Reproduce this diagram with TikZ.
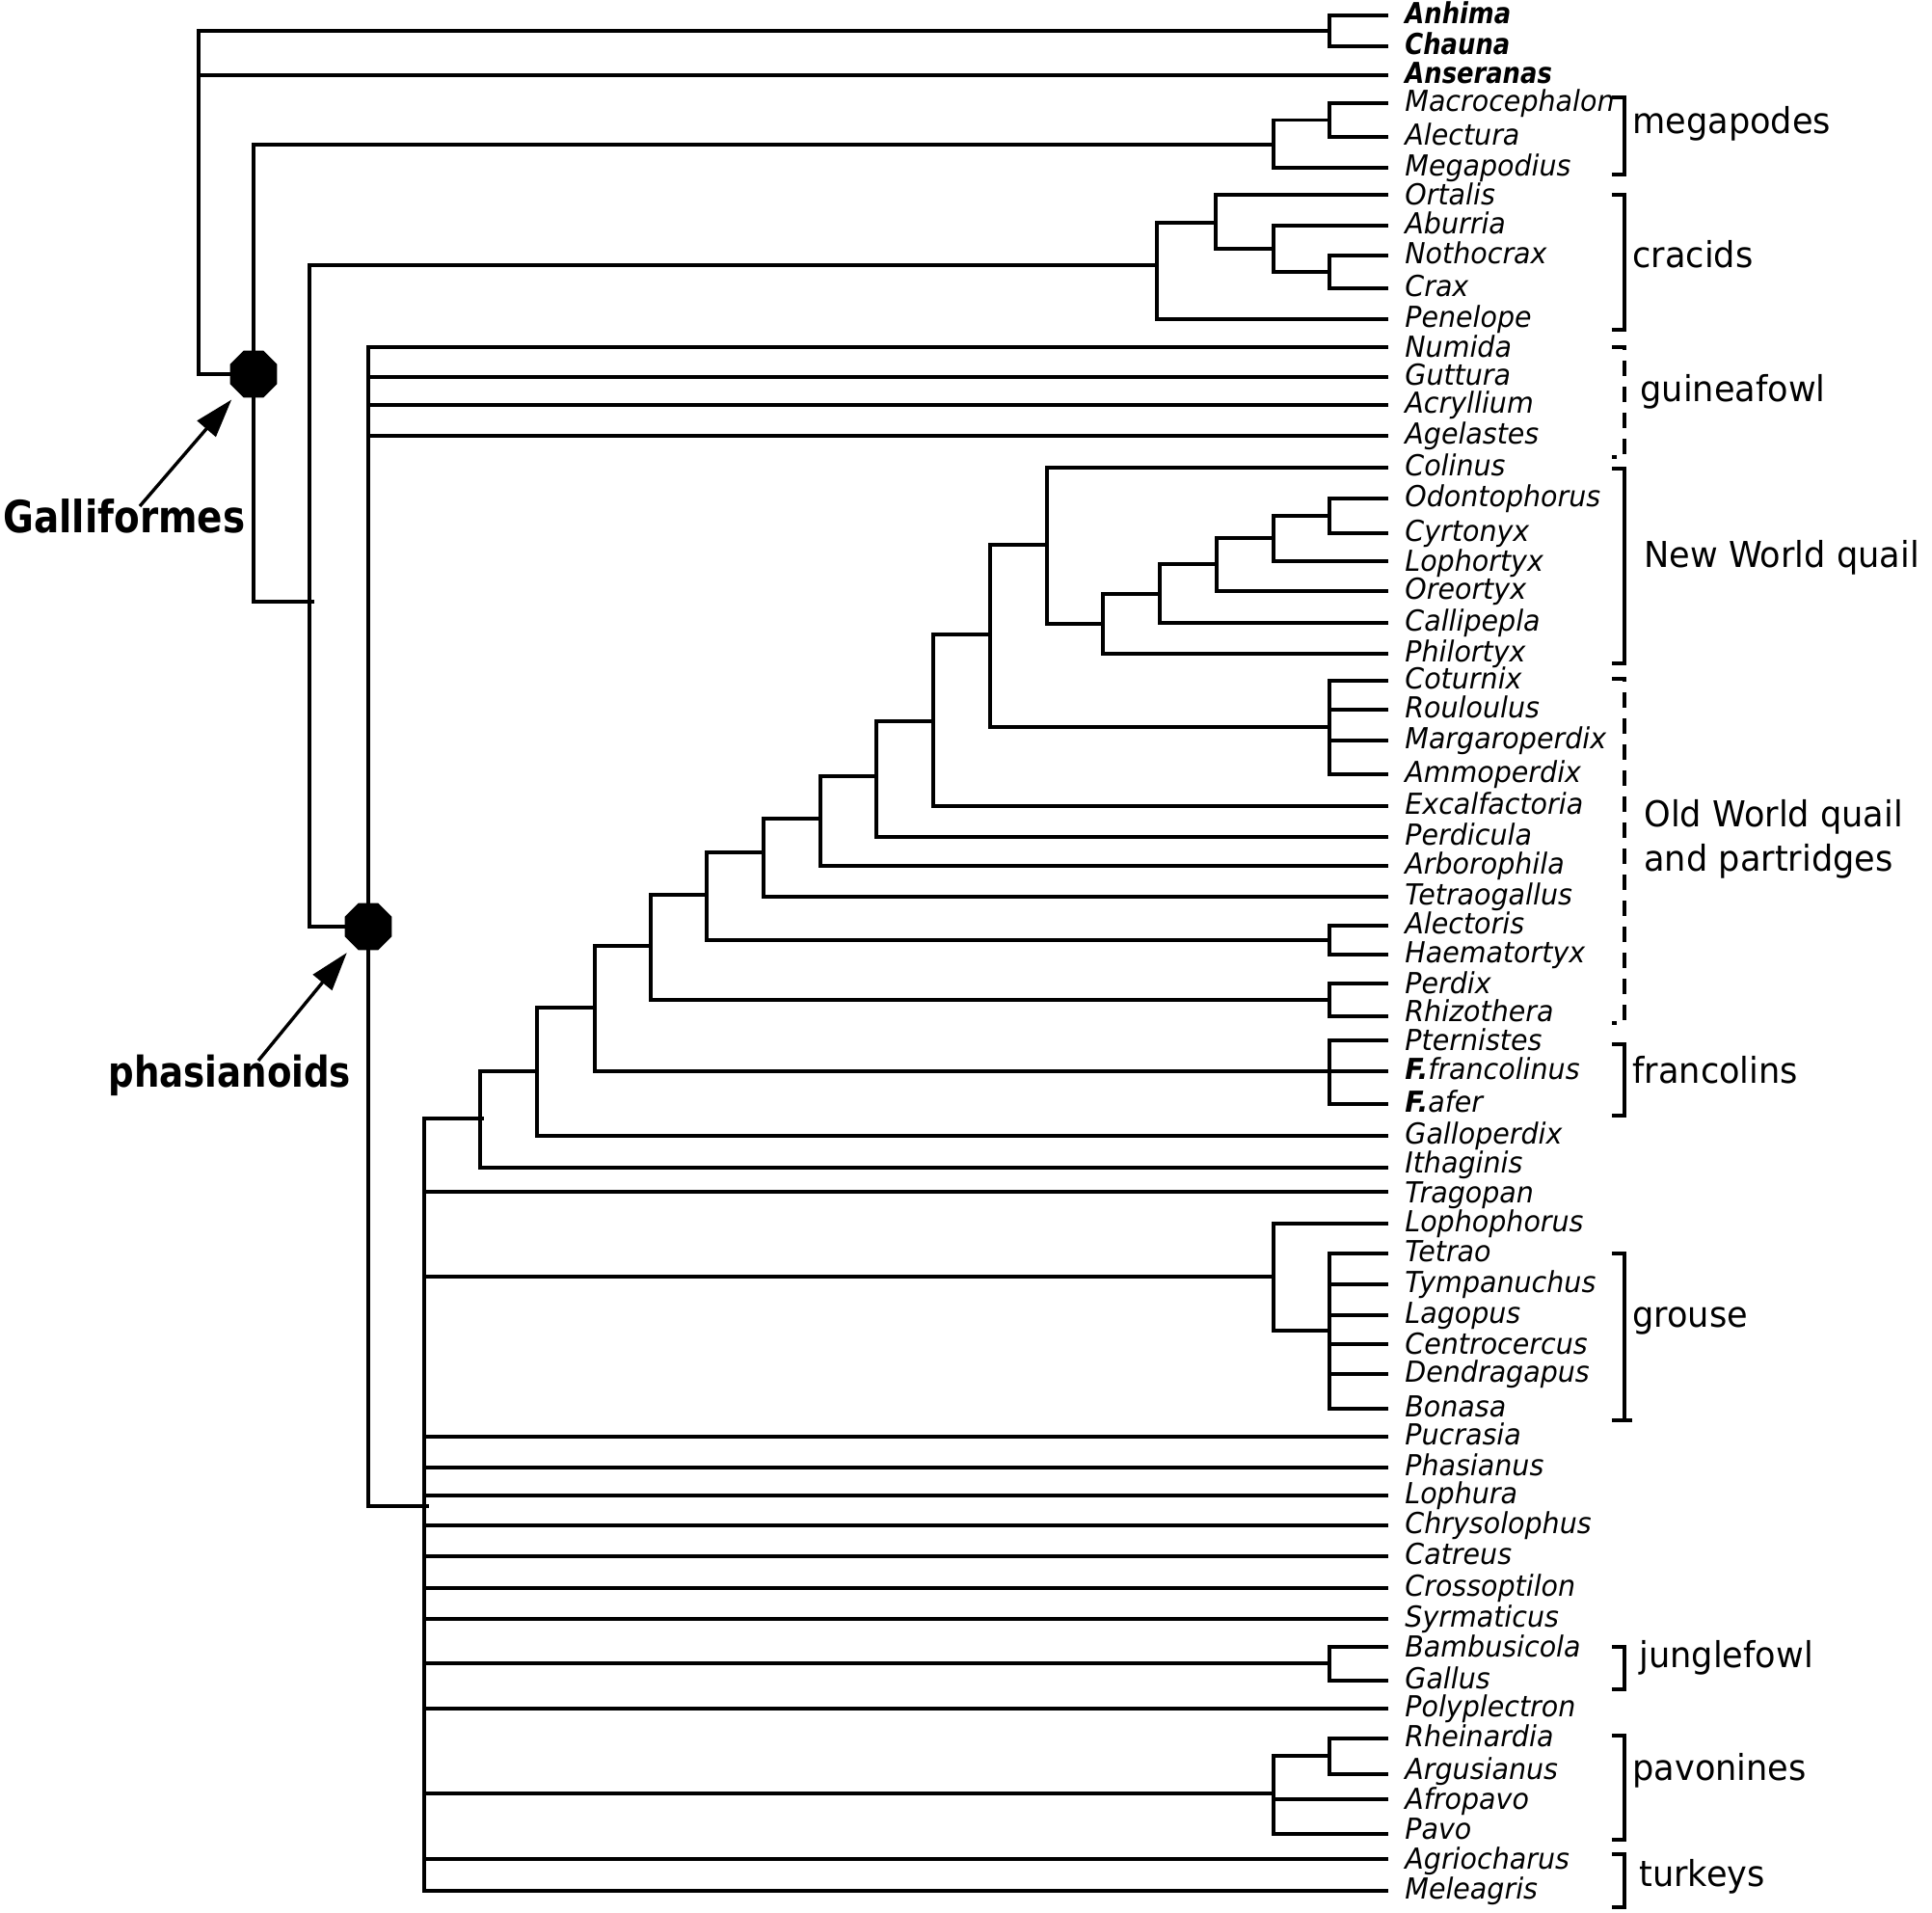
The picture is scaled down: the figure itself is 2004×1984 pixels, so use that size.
\documentclass[tikz,border=0pt]{standalone}
\usepackage{fontspec}
\setmainfont{DejaVu Sans}
\newfontfamily\leaffont[FakeStretch=0.95]{DejaVu Sans}
\newfontfamily\boldleaffont[FakeStretch=0.86]{DejaVu Sans}
\newfontfamily\grpfont[FakeStretch=0.95]{DejaVu Sans}
\newfontfamily\cladefont[FakeStretch=0.845]{DejaVu Sans}
\usetikzlibrary{shapes.geometric,arrows.meta}
\newcommand\mkleaf[4][3]{\coordinate (e#2) at (1440,#3); \node[leaf] (t#2) at (1457,#3+#1) {#4};}
\newcommand\mkbleaf[3]{\coordinate (e#1) at (1440,#2); \node[bleaf] (t#1) at (1457,#2+3) {#3};}
\begin{document}
\begin{tikzpicture}[x=0.5pt,y=-0.5pt,
  br/.style={line width=1.7pt},
  leaf/.style={anchor=mid west, inner sep=0pt, font=\leaffont\itshape\fontsize{15pt}{17pt}\selectfont},
  bleaf/.style={anchor=mid west, inner sep=0pt, font=\boldleaffont\bfseries\itshape\fontsize{15pt}{17pt}\selectfont},
  grp/.style={anchor=mid west, inner sep=0pt, font=\grpfont\fontsize{18.5pt}{22pt}\selectfont},
  brk/.style={line width=1.7pt},
  dbrk/.style={line width=1.7pt, dash pattern=on 8pt off 5.5pt},
  marker/.style={regular polygon, regular polygon sides=8, fill=black, draw=none, minimum size=26.5pt, inner sep=0pt},
  bigl/.style={inner sep=0pt, anchor=base west, font=\cladefont\bfseries\fontsize{23pt}{27pt}\selectfont},
  pointer/.style={line width=1.7pt, -{Triangle[length=20pt,width=12.5pt]}}]
\useasboundingbox (0,0) rectangle (2004,1984);
% leaves
\mkbleaf{Anhima}{16}{Anhima}
\mkbleaf{Chauna}{48}{Chauna}
\mkbleaf{Anseranas}{78}{Anseranas}
\mkleaf{Macrocephalon}{107}{Macrocephalon}
\mkleaf{Alectura}{142}{Alectura}
\mkleaf{Megapodius}{174}{Megapodius}
\mkleaf[5]{Ortalis}{202}{Ortalis}
\mkleaf{Aburria}{234}{Aburria}
\mkleaf{Nothocrax}{265}{Nothocrax}
\mkleaf{Crax}{299}{Crax}
\mkleaf{Penelope}{331}{Penelope}
\mkleaf[5]{Numida}{360}{Numida}
\mkleaf{Guttura}{391}{Guttura}
\mkleaf{Acryllium}{420}{Acryllium}
\mkleaf{Agelastes}{452}{Agelastes}
\mkleaf{Colinus}{485}{Colinus}
\mkleaf{Odontophorus}{517}{Odontophorus}
\mkleaf{Cyrtonyx}{553}{Cyrtonyx}
\mkleaf[5]{Lophortyx}{582}{Lophortyx}
\mkleaf{Oreortyx}{613}{Oreortyx}
\mkleaf{Callipepla}{646}{Callipepla}
\mkleaf{Philortyx}{678}{Philortyx}
\mkleaf{Coturnix}{706}{Coturnix}
\mkleaf{Rouloulus}{736}{Rouloulus}
\mkleaf{Margaroperdix}{768}{Margaroperdix}
\mkleaf{Ammoperdix}{803}{Ammoperdix}
\mkleaf{Excalfactoria}{836}{Excalfactoria}
\mkleaf{Perdicula}{868}{Perdicula}
\mkleaf{Arborophila}{898}{Arborophila}
\mkleaf{Tetraogallus}{930}{Tetraogallus}
\mkleaf{Alectoris}{960}{Alectoris}
\mkleaf{Haematortyx}{990}{Haematortyx}
\mkleaf[5]{Perdix}{1020}{Perdix}
\mkleaf[0]{Rhizothera}{1054}{Rhizothera}
\mkleaf[5]{Pternistes}{1079}{Pternistes}
\mkleaf{Ffrancolinus}{1111}{{\bfseries F.}francolinus}
\mkleaf{Fafer}{1145}{{\bfseries F.}afer}
\mkleaf{Galloperdix}{1178}{Galloperdix}
\mkleaf[0]{Ithaginis}{1211}{Ithaginis}
\mkleaf[6]{Tragopan}{1236}{Tragopan}
\mkleaf{Lophophorus}{1269}{Lophophorus}
\mkleaf{Tetrao}{1300}{Tetrao}
\mkleaf{Tympanuchus}{1332}{Tympanuchus}
\mkleaf{Lagopus}{1364}{Lagopus}
\mkleaf[5]{Centrocercus}{1394}{Centrocercus}
\mkleaf{Dendragapus}{1425}{Dendragapus}
\mkleaf{Bonasa}{1461}{Bonasa}
\mkleaf{Pucrasia}{1490}{Pucrasia}
\mkleaf{Phasianus}{1522}{Phasianus}
\mkleaf{Lophura}{1551}{Lophura}
\mkleaf{Chrysolophus}{1582}{Chrysolophus}
\mkleaf{Catreus}{1614}{Catreus}
\mkleaf{Crossoptilon}{1647}{Crossoptilon}
\mkleaf{Syrmaticus}{1679}{Syrmaticus}
\mkleaf[5]{Bambusicola}{1708}{Bambusicola}
\mkleaf{Gallus}{1743}{Gallus}
\mkleaf{Polyplectron}{1772}{Polyplectron}
\mkleaf{Rheinardia}{1803}{Rheinardia}
\mkleaf[0]{Argusianus}{1840}{Argusianus}
\mkleaf[5]{Afropavo}{1866}{Afropavo}
\mkleaf[0]{Pavo}{1902}{Pavo}
\mkleaf[5]{Agriocharus}{1928}{Agriocharus}
\mkleaf{Meleagris}{1961}{Meleagris}
% internal nodes
\coordinate (root) at (206,200);
\coordinate (AC) at (1379,32);
\coordinate (G1) at (263,388);
\coordinate (MG) at (1321,150);
\coordinate (MA) at (1379,124.5);
\coordinate (CP) at (321,624);
\coordinate (CR) at (1200,275);
\coordinate (OA) at (1261,231);
\coordinate (AN) at (1321,258);
\coordinate (NC) at (1379,282);
\coordinate (PH) at (382,961);
\coordinate (BIG) at (440,1562);
\coordinate (nA) at (498,1160);
\coordinate (nB) at (557,1111);
\coordinate (nC) at (617,1045);
\coordinate (FR) at (1379,1111);
\coordinate (nD) at (675,981);
\coordinate (PR) at (1379,1037);
\coordinate (nE) at (733,928);
\coordinate (AH) at (1379,975);
\coordinate (nF) at (792,884);
\coordinate (nG) at (851,849);
\coordinate (nH) at (909,805);
\coordinate (nI) at (968,748);
\coordinate (nJ) at (1027,658);
\coordinate (CO) at (1379,754);
\coordinate (nK) at (1086,565);
\coordinate (nL) at (1144,647);
\coordinate (nM) at (1203,616);
\coordinate (nN) at (1262,585);
\coordinate (nO) at (1321,558);
\coordinate (nP) at (1379,535);
\coordinate (GR) at (1321,1324);
\coordinate (GS) at (1379,1380);
\coordinate (JF) at (1379,1725);
\coordinate (PV) at (1321,1860);
\coordinate (RA) at (1379,1821);
% branches
\foreach \p/\c in {root/AC, root/eAnseranas, root/G1, AC/eAnhima, AC/eChauna,
  G1/MG, G1/CP, MG/MA, MG/eMegapodius, MA/eMacrocephalon, MA/eAlectura,
  CP/CR, CP/PH, CR/OA, CR/ePenelope, OA/eOrtalis, OA/AN, AN/eAburria, AN/NC,
  NC/eNothocrax, NC/eCrax,
  PH/eNumida, PH/eGuttura, PH/eAcryllium, PH/eAgelastes, PH/BIG,
  BIG/nA, BIG/eTragopan, BIG/GR, BIG/ePucrasia, BIG/ePhasianus, BIG/eLophura,
  BIG/eChrysolophus, BIG/eCatreus, BIG/eCrossoptilon, BIG/eSyrmaticus, BIG/JF,
  BIG/ePolyplectron, BIG/PV, BIG/eAgriocharus, BIG/eMeleagris,
  nA/nB, nA/eIthaginis, nB/nC, nB/eGalloperdix, nC/nD, nC/FR,
  FR/ePternistes, FR/eFfrancolinus, FR/eFafer,
  nD/nE, nD/PR, PR/ePerdix, PR/eRhizothera,
  nE/nF, nE/AH, AH/eAlectoris, AH/eHaematortyx,
  nF/nG, nF/eTetraogallus, nG/nH, nG/eArborophila, nH/nI, nH/ePerdicula,
  nI/nJ, nI/eExcalfactoria, nJ/nK, nJ/CO,
  CO/eCoturnix, CO/eRouloulus, CO/eMargaroperdix, CO/eAmmoperdix,
  nK/eColinus, nK/nL, nL/nM, nL/ePhilortyx, nM/nN, nM/eCallipepla,
  nN/nO, nN/eOreortyx, nO/nP, nO/eLophortyx, nP/eOdontophorus, nP/eCyrtonyx,
  GR/eLophophorus, GR/GS, GS/eTetrao, GS/eTympanuchus, GS/eLagopus,
  GS/eCentrocercus, GS/eDendragapus, GS/eBonasa,
  JF/eBambusicola, JF/eGallus, PV/RA, PV/eAfropavo, PV/ePavo,
  RA/eRheinardia, RA/eArgusianus}
  \draw[br] (\p) |- (\c);
\draw[br] (CP) -- ++(5,0);
\draw[br] (BIG) -- ++(5,0);
\draw[br] (nA) -- ++(4,0);
% markers
\node[marker] (g1mark) at (G1) {};
\node[marker] (phmark) at (PH) {};
% clade labels with arrows
\node[bigl] (galli) at (3,553) {Galliformes};
\node[bigl, font=\cladefont\bfseries\fontsize{22pt}{26pt}\selectfont] (phas) at (112,1127) {phasianoids};
\coordinate (galtail) at (145,525);
\coordinate (phtail) at (268,1100);
\draw[pointer, shorten >=5pt] (galtail) -- (g1mark);
\draw[pointer, shorten >=5pt] (phtail) -- (phmark);
% brackets
\draw[brk] (1672,101) -- (1685,101) -- (1685,181) -- (1672,181);
\draw[brk] (1672,202) -- (1685,202) -- (1685,342) -- (1672,342);
\draw[dbrk] (1672,360) -- (1685,360) -- (1685,474) -- (1672,474);
\draw[brk] (1672,486) -- (1685,486) -- (1685,688) -- (1672,688);
\draw[dbrk] (1672,704) -- (1685,704) -- (1685,1061) -- (1672,1061);
\draw[brk] (1672,1083) -- (1685,1083) -- (1685,1157) -- (1672,1157);
\draw[brk] (1672,1300) -- (1685,1300) -- (1685,1473) -- (1672,1473);
\draw[brk] (1685,1473) -- (1693,1473);
\draw[brk] (1672,1708) -- (1685,1708) -- (1685,1752) -- (1672,1752);
\draw[brk] (1672,1800) -- (1685,1800) -- (1685,1908) -- (1672,1908);
\draw[brk] (1672,1923) -- (1685,1923) -- (1685,1978) -- (1672,1978);
% group labels
\node[grp] (gmega) at (1693,133) {megapodes};
\node[grp] (gcrac) at (1693,272) {cracids};
\node[grp] (gguin) at (1701,411) {guineafowl};
\node[grp] (gnwq) at (1705,583) {New World quail};
\node[grp] (gowq) at (1705,852) {Old World quail};
\node[grp] (gowqb) at (1705,898) {and partridges};
\node[grp] (gfran) at (1693,1118) {francolins};
\node[grp] (ggrou) at (1693,1371) {grouse};
\node[grp] (gjung) at (1700,1724) {junglefowl};
\node[grp] (gpavo) at (1693,1841) {pavonines};
\node[grp] (gturk) at (1700,1951) {turkeys};
\end{tikzpicture}
\end{document}
